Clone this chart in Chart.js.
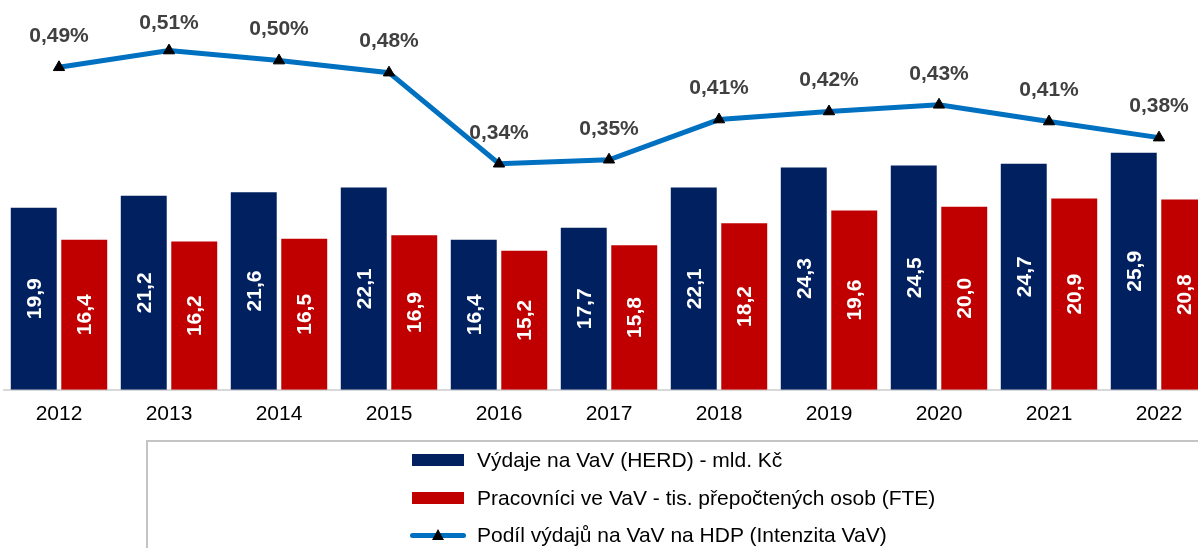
<!DOCTYPE html>
<html>
<head>
<meta charset="utf-8">
<script src="https://cdn.jsdelivr.net/npm/chart.js@4/dist/chart.umd.min.js"></script>
<style>
  html, body { margin: 0; padding: 0; background: #fff; overflow: hidden; width: 1198px; height: 548px; }
  #wrap { position: absolute; left: 0; top: 0; width: 1218px; height: 548px; }
  #legendBox { position: absolute; left: 146px; top: 440px; width: 1200px; height: 200px;
    border-top: 2px solid #c4c4c4; border-left: 2px solid #c4c4c4; box-sizing: border-box; }
  .item { position: absolute; left: 410px; height: 28px; display: flex; align-items: center;
    font-family: "Liberation Sans", Arial, sans-serif; font-size: 21px; color: #000; white-space: nowrap; }
  .sw { width: 52px; height: 12px; margin-left: 2px; margin-right: 13px; }
  .lsw { position: relative; width: 56px; height: 5px; border-radius: 3px; background: #0070C0; margin-right: 11px; }
  .tri { position: absolute; left: 22px; top: -4px; width: 0; height: 0;
    border-left: 6px solid transparent; border-right: 6px solid transparent; border-bottom: 11px solid #000; }
</style>
</head>
<body>
<div id="wrap"><canvas id="c"></canvas></div>
<div id="legendBox"></div>
<div id="legend"></div>
<script>
const categories = ['2012','2013','2014','2015','2016','2017','2018','2019','2020','2021','2022'];
const herdSpending = [19.9, 21.2, 21.6, 22.1, 16.4, 17.7, 22.1, 24.3, 24.5, 24.7, 25.9];
const fteWorkers = [16.4, 16.2, 16.5, 16.9, 15.2, 15.8, 18.2, 19.6, 20.0, 20.9, 20.8];
const intensity = [0.487, 0.512, 0.497, 0.479, 0.343, 0.349, 0.409, 0.421, 0.431, 0.406, 0.382];
const seriesNames = [
  'Výdaje na VaV (HERD) - mld. Kč',
  'Pracovníci ve VaV - tis. přepočtených osob (FTE)',
  'Podíl výdajů na VaV na HDP (Intenzita VaV)'
];

const FONT = '"Liberation Sans", Arial, sans-serif';
const NAVY = '#002060', RED = '#C00000', BLUE = '#0070C0';

const labelPlugin = {
  id: 'valueLabels',
  afterDatasetsDraw(chart) {
    const ctx = chart.ctx;
    ctx.save();
    [0, 1].forEach(di => {
      const meta = chart.getDatasetMeta(di);
      const vals = chart.data.datasets[di].data;
      meta.data.forEach((el, i) => {
        const cy = (el.y + el.base) / 2;
        ctx.save();
        ctx.translate(el.x, cy);
        ctx.rotate(-Math.PI / 2);
        ctx.font = 'bold 21px ' + FONT;
        ctx.fillStyle = '#fff';
        ctx.textAlign = 'center';
        ctx.textBaseline = 'middle';
        ctx.fillText(vals[i].toFixed(1).replace('.', ','), 0, 1);
        ctx.restore();
      });
    });
    const lm = chart.getDatasetMeta(2);
    const lv = chart.data.datasets[2].data;
    lm.data.forEach((el, i) => {
      ctx.font = 'bold 21px ' + FONT;
      ctx.fillStyle = '#404040';
      ctx.textAlign = 'center';
      ctx.textBaseline = 'middle';
      ctx.fillText(lv[i].toFixed(2).replace('.', ',') + '%', el.x, Math.max(el.y - 31, 23));
    });
    ctx.restore();
  }
};

new Chart(document.getElementById('c'), {
  data: {
    labels: categories,
    datasets: [
      { type: 'bar', label: seriesNames[0], data: herdSpending, backgroundColor: NAVY,
        yAxisID: 'y', order: 1, categoryPercentage: 0.918, barPercentage: 0.91 },
      { type: 'bar', label: seriesNames[1], data: fteWorkers, backgroundColor: RED,
        yAxisID: 'y', order: 1, categoryPercentage: 0.918, barPercentage: 0.91 },
      { type: 'line', label: seriesNames[2], data: intensity, borderColor: BLUE, borderWidth: 5,
        yAxisID: 'y2', order: 0, tension: 0, pointStyle: 'triangle', pointRadius: 6.5,
        pointBackgroundColor: '#000', pointBorderColor: '#000', pointBorderWidth: 1, clip: false }
    ]
  },
  options: {
    responsive: true,
    maintainAspectRatio: false,
    animation: false,
    layout: { autoPadding: false, padding: { left: 4, right: 4, top: 0, bottom: 109 } },
    plugins: { legend: { display: false }, tooltip: { enabled: false } },
    scales: {
      x: {
        grid: { display: false, drawTicks: false },
        border: { display: true, color: '#d9d9d9', width: 2 },
        ticks: { color: '#000', font: { family: FONT, size: 21 }, padding: 12, maxRotation: 0 }
      },
      y: { display: false, min: 0, max: 42.6 },
      y2: { display: false, min: 0.0055, max: 0.5875 }
    }
  },
  plugins: [labelPlugin]
});

const legendEl = document.getElementById('legend');
const rowsY = [460, 497.5, 535];
const colors = [NAVY, RED];
seriesNames.forEach((name, i) => {
  const d = document.createElement('div');
  d.className = 'item';
  d.style.top = (rowsY[i] - 14) + 'px';
  let sw;
  if (i < 2) {
    sw = document.createElement('span');
    sw.className = 'sw';
    sw.style.background = colors[i];
  } else {
    sw = document.createElement('span');
    sw.className = 'lsw';
    const t = document.createElement('span');
    t.className = 'tri';
    sw.appendChild(t);
  }
  d.appendChild(sw);
  const tx = document.createElement('span');
  tx.textContent = name;
  d.appendChild(tx);
  legendEl.appendChild(d);
});
</script>
</body>
</html>
